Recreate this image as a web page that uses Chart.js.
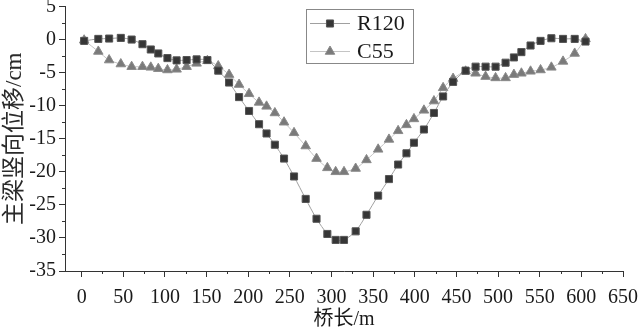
<!DOCTYPE html>
<html>
<head>
<meta charset="utf-8">
<script src="https://cdn.jsdelivr.net/npm/chart.js@4.4.1/dist/chart.umd.min.js"></script>
<style>
html,body{margin:0;padding:0;background:#fff;}
#wrap{width:640px;height:330px;}
</style>
</head>
<body>
<div id="wrap"><canvas id="c" width="640" height="330"></canvas></div>
<script>
// ---- data ----
const bridgeX = [3,20,33,47,60,73,83,92,103,114,126,138,151,164,177,189,201,213,222,232,243,255,269,282,295,305,315,329,342,356,369,380,390,399,411,423,434,446,461,473,485,497,509,519,528,539,551,564,578,592,605];
const r120 = [-0.2,0.1,0.15,0.25,0,-0.7,-1.5,-2.1,-2.8,-3.15,-3.1,-3.0,-3.1,-4.7,-6.5,-8.7,-10.8,-12.8,-14.2,-15.9,-18.0,-20.7,-24.1,-27.1,-29.4,-30.3,-30.3,-29.0,-26.5,-23.6,-21.1,-18.9,-17.2,-15.6,-13.6,-11.1,-8.6,-6.4,-4.7,-4.1,-4.1,-4.1,-3.5,-2.7,-1.9,-0.9,-0.2,0.2,0.1,0.1,-0.3];
const c55 = [-0.1,-1.8,-3.1,-3.7,-4.1,-4.1,-4.2,-4.4,-4.6,-4.5,-4.1,-3.6,-3.2,-4.0,-5.3,-6.8,-8.2,-9.5,-10.1,-11.1,-12.5,-14.1,-16.1,-18.0,-19.4,-20.0,-20.0,-19.5,-18.2,-16.6,-15.1,-13.8,-12.9,-12.0,-10.7,-9.3,-7.3,-5.9,-4.8,-5.1,-5.6,-5.8,-5.8,-5.3,-5.1,-4.8,-4.6,-4.2,-3.3,-2.1,0.1];
const seriesNames = ['R120', 'C55'];
const xTickValues = [0,50,100,150,200,250,300,350,400,450,500,550,600,650];
const yTickValues = [-35,-30,-25,-20,-15,-10,-5,0,5];
const xTitle = '桥长/m';
const yTitle = '主梁竖向位移/cm';
const xRange = [-20, 650];
const yRange = [-35, 5];

const FONT = "'Liberation Serif', 'Noto Sans CJK SC', serif";
const toPts = (ys) => ys.map((y, i) => ({x: bridgeX[i], y: y}));

const minorTicks = {
  id: 'minorTicks',
  afterDraw(chart) {
    const ctx = chart.ctx, xs = chart.scales.x, ys = chart.scales.y;
    ctx.save();
    ctx.strokeStyle = '#333';
    ctx.lineWidth = 1;
    ctx.beginPath();
    for (let v = 25; v < xRange[1]; v += 50) {
      const px = Math.round(xs.getPixelForValue(v)) + 0.5;
      ctx.moveTo(px, xs.top); ctx.lineTo(px, xs.top + 3);
    }
    for (let v = yRange[0] + 2.5; v < yRange[1]; v += 5) {
      const py = Math.round(ys.getPixelForValue(v)) + 0.5;
      ctx.moveTo(ys.right, py); ctx.lineTo(ys.right - 3, py);
    }
    ctx.stroke();
    ctx.restore();
  }
};

function drawMarker(ctx, style, x, y, r, fill, stroke) {
  ctx.fillStyle = fill; ctx.strokeStyle = stroke; ctx.lineWidth = 1;
  ctx.beginPath();
  if (style === 'rect') {
    const s = r * Math.SQRT1_2;
    ctx.rect(x - s, y - s, 2 * s, 2 * s);
  } else {
    const a = -Math.PI / 2;
    for (let k = 0; k < 3; k++) {
      const ang = a + k * 2 * Math.PI / 3;
      const px = x + Math.cos(ang) * r, py = y + Math.sin(ang) * r;
      if (k === 0) ctx.moveTo(px, py); else ctx.lineTo(px, py);
    }
    ctx.closePath();
  }
  ctx.fill(); ctx.stroke();
}

const boxLegend = {
  id: 'boxLegend',
  afterDraw(chart) {
    const ctx = chart.ctx;
    ctx.save();
    ctx.strokeStyle = '#888';
    ctx.lineWidth = 1;
    ctx.strokeRect(306.5, 9.5, 107, 54);
    const rows = [23, 51];
    chart.data.datasets.forEach((ds, i) => {
      const y = rows[i];
      ctx.strokeStyle = ds.borderColor;
      ctx.lineWidth = 1;
      ctx.beginPath(); ctx.moveTo(310, y + 0.5); ctx.lineTo(350, y + 0.5); ctx.stroke();
      drawMarker(ctx, ds.pointStyle, 330, y + 0.5, ds.pointRadius, ds.pointBackgroundColor, ds.pointBorderColor);
      ctx.fillStyle = '#1a1a1a';
      ctx.font = "22px " + FONT;
      ctx.textBaseline = 'middle';
      ctx.textAlign = 'left';
      ctx.fillText(ds.label, 357, y + 1);
    });
    ctx.restore();
  }
};

new Chart(document.getElementById('c'), {
  type: 'line',
  data: {
    datasets: [
      {
        label: seriesNames[0],
        data: toPts(r120),
        borderColor: '#a0a0a0',
        borderWidth: 1,
        pointStyle: 'rect',
        pointRadius: 5,
        pointBackgroundColor: '#363636',
        pointBorderColor: '#555555',
        pointBorderWidth: 1,
        tension: 0.25,
        fill: false
      },
      {
        label: seriesNames[1],
        data: toPts(c55),
        borderColor: '#c4c4c4',
        borderWidth: 1,
        pointStyle: 'triangle',
        pointRadius: 5.5,
        pointBackgroundColor: '#7a7a7a',
        pointBorderColor: '#8a8a8a',
        pointBorderWidth: 1,
        tension: 0.25,
        fill: false
      }
    ]
  },
  options: {
    responsive: false,
    devicePixelRatio: 1,
    animation: false,
    layout: {padding: {left: 0, right: 17, top: 5, bottom: 0}},
    plugins: {legend: {display: false}, tooltip: {enabled: false}},
    scales: {
      x: {
        type: 'linear',
        min: xRange[0], max: xRange[1],
        afterBuildTicks: (s) => { s.ticks = xTickValues.map(v => ({value: v})); },
        afterFit: (s) => { s.height = 59; s.paddingLeft = 0; s.paddingRight = 0; },
        ticks: {autoSkip: false, maxRotation: 0, color: '#1a1a1a', padding: 9, font: {family: FONT, size: 20}},
        grid: {drawOnChartArea: false, drawTicks: true, tickLength: 6, tickColor: '#333'},
        border: {display: true, color: '#333', width: 1},
        title: {display: true, text: xTitle, color: '#1a1a1a', font: {family: FONT, size: 20}, padding: {top: 0, bottom: -2}}
      },
      y: {
        min: yRange[0], max: yRange[1],
        afterBuildTicks: (s) => { s.ticks = yTickValues.map(v => ({value: v})); },
        afterFit: (s) => { s.width = 65; s.paddingTop = 0; s.paddingBottom = 0; },
        ticks: {color: '#1a1a1a', padding: 3, font: {family: FONT, size: 20}},
        grid: {drawOnChartArea: false, drawTicks: true, tickLength: 6, tickColor: '#333'},
        border: {display: true, color: '#333', width: 1},
        title: {display: true, text: yTitle, color: '#2a2a2a', font: {family: FONT, size: 23, weight: 'normal'}, padding: {top: 1, bottom: 0}}
      }
    }
  },
  plugins: [minorTicks, boxLegend]
});
</script>
</body>
</html>
